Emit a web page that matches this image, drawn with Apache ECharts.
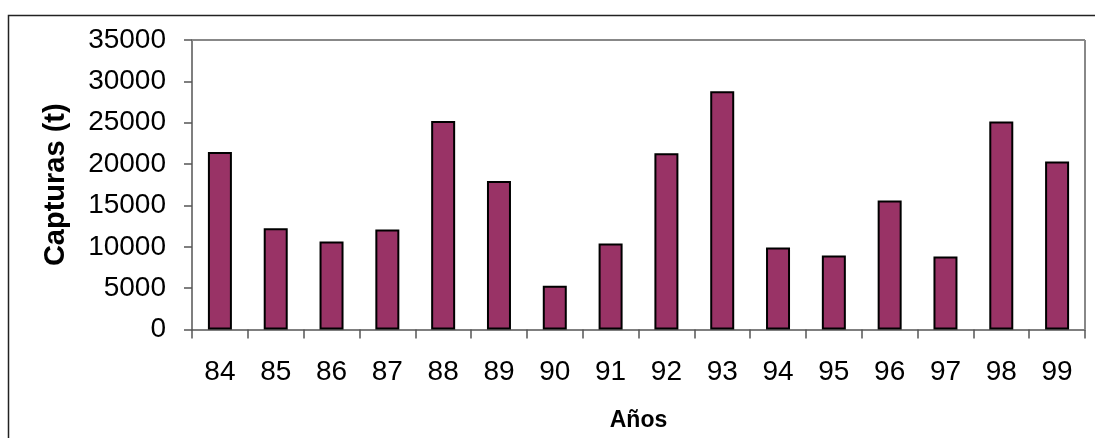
<!DOCTYPE html>
<html><head><meta charset="utf-8">
<script src="https://cdn.jsdelivr.net/npm/echarts@6/dist/echarts.min.js"></script>
<style>html,body{margin:0;padding:0;background:#fff}#c{width:1095px;height:438px}</style>
</head><body><div id="c"></div>
<script>
const categories = ['84','85','86','87','88','89','90','91','92','93','94','95','96','97','98','99'];
const capturas = [21450, 12250, 10650, 12100, 25200, 17950, 5300, 10400, 21300, 28800, 9900, 8950, 15600, 8830, 25150, 20300];
const yTicks = {min: 0, max: 35000, interval: 5000};

const chart = echarts.init(document.getElementById('c'), null, {renderer: 'canvas'});
chart.setOption({
  animation: false,
  backgroundColor: '#fff',
  textStyle: {fontFamily: 'Liberation Sans, Arial, sans-serif'},
  graphic: [{
    type: 'rect', silent: true, z: -10,
    shape: {x: 8.5, y: 15.5, width: 1100, height: 440},
    style: {fill: 'none', stroke: '#222', lineWidth: 1.5}
  }, {
    type: 'line', silent: true, z: 5,
    shape: {x1: 192, y1: 40, x2: 1085, y2: 40},
    style: {stroke: '#888', lineWidth: 2}
  }, {
    type: 'line', silent: true, z: 5,
    shape: {x1: 1085, y1: 40, x2: 1085, y2: 329.5},
    style: {stroke: '#888', lineWidth: 2}
  }],
  grid: {left: 192, right: 10, top: 40, bottom: 108.5, containLabel: false},
  xAxis: {
    type: 'category', data: categories,
    name: 'Años', nameLocation: 'middle', nameGap: 80,
    nameTextStyle: {fontSize: 23, fontWeight: 'bold', color: '#000', fontFamily: 'Liberation Sans'},
    axisLine: {lineStyle: {color: '#555', width: 1.5}},
    axisTick: {show: true, length: 9, alignWithLabel: false, lineStyle: {color: '#555', width: 1.5}},
    axisLabel: {fontSize: 28, color: '#000', margin: 29, fontFamily: 'Liberation Sans'},
    splitLine: {show: false}
  },
  yAxis: {
    type: 'value', min: yTicks.min, max: yTicks.max, interval: yTicks.interval,
    name: 'Capturas (t)', nameLocation: 'middle', nameGap: 122, nameRotate: 90,
    nameTextStyle: {fontSize: 29, fontWeight: 'bold', color: '#000', fontFamily: 'Liberation Sans'},
    axisLine: {show: true, lineStyle: {color: '#555', width: 1.5}},
    axisTick: {show: true, length: 8, lineStyle: {color: '#555', width: 1.5}},
    axisLabel: {fontSize: 28, color: '#000', margin: 26, fontFamily: 'Liberation Sans', formatter: v => String(v)},
    splitLine: {show: false}
  },
  series: [{
    type: 'bar', data: capturas, barWidth: '43%',
    itemStyle: {color: '#993366', borderColor: '#000', borderWidth: 2}
  }]
});
</script></body></html>
